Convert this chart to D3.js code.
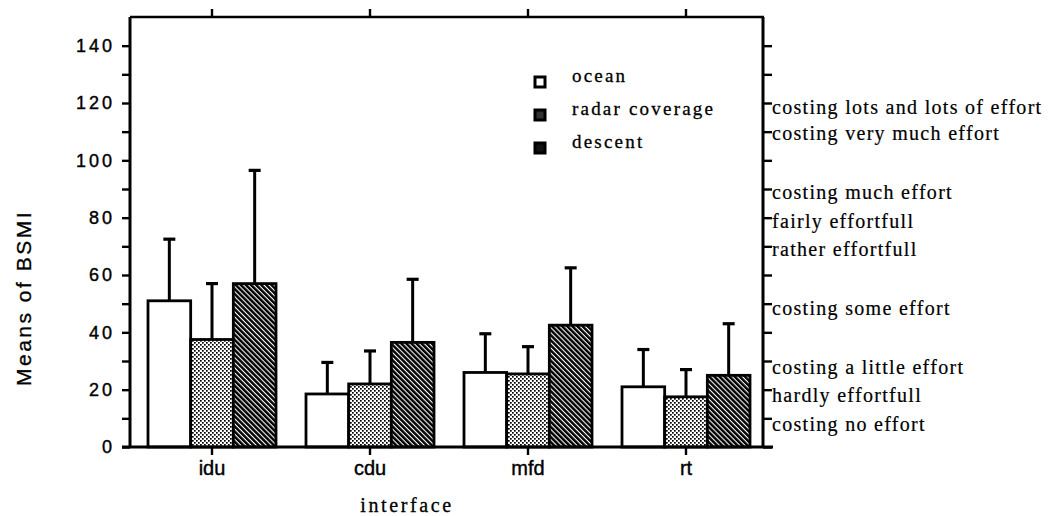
<!DOCTYPE html>
<html>
<head>
<meta charset="utf-8">
<script src="https://cdn.jsdelivr.net/npm/d3@7"></script>
<style>
  html, body { margin: 0; padding: 0; background: #fff; }
  svg { display: block; }
</style>
</head>
<body>
<svg id="chart" width="1055" height="516"></svg>
<script>
// ---- data ----
const categories = ["idu", "cdu", "mfd", "rt"];
const seriesNames = ["ocean", "radar coverage", "descent"];
const oceanMeans   = [51, 18.5, 26, 21];
const radarMeans   = [37.5, 22, 25.5, 17.5];
const descentMeans = [57, 36.5, 42.5, 25];
const oceanSD   = [21.5, 11, 13.5, 13];
const radarSD   = [19.5, 11.5, 9.5, 9.5];
const descentSD = [39.5, 22, 20, 18];
const yTickValues = [0, 10, 20, 30, 40, 50, 60, 70, 80, 90, 100, 110, 120, 130, 140];
const yLabelValues = [0, 20, 40, 60, 80, 100, 120, 140];
const anchorLabels = ["costing lots and lots of effort", "costing very much effort", "costing much effort",
  "fairly effortfull", "rather effortfull", "costing some effort", "costing a little effort",
  "hardly effortfull", "costing no effort"];
const anchorValues = [118.5, 109.5, 89, 79, 69, 48.5, 28, 18, 8];
const yTitle = "Means of BSMI";
const xTitle = "interface";

const means = [oceanMeans, radarMeans, descentMeans];
const sds = [oceanSD, radarSD, descentSD];

// ---- layout ----
const svg = d3.select("#chart");
const plotLeft = 130, plotRight = 763, plotTop = 17, plotBottom = 447;

const y = d3.scaleLinear().domain([0, 150]).range([plotBottom, plotTop]);
const x = d3.scaleBand().domain(categories).range([133, 765]).paddingInner(0).paddingOuter(0);
const xs = d3.scaleBand().domain(seriesNames).range([-64, 64]);

// ---- patterns ----
const defs = svg.append("defs");
const p1 = defs.append("pattern").attr("id", "dots").attr("patternUnits", "userSpaceOnUse")
  .attr("width", 4).attr("height", 4);
p1.append("rect").attr("width", 4).attr("height", 4).attr("fill", "#fff");
p1.append("rect").attr("x", 0).attr("y", 0).attr("width", 1.7).attr("height", 1.7).attr("fill", "#000");
p1.append("rect").attr("x", 2).attr("y", 2).attr("width", 1.7).attr("height", 1.7).attr("fill", "#000");

const p2 = defs.append("pattern").attr("id", "hatch").attr("patternUnits", "userSpaceOnUse")
  .attr("width", 3.6).attr("height", 3.6).attr("patternTransform", "rotate(-45)");
p2.append("rect").attr("width", 3.6).attr("height", 3.6).attr("fill", "#fff");
p2.append("rect").attr("x", 0).attr("y", 0).attr("width", 2.5).attr("height", 3.6).attr("fill", "#000");

const fills = ["#fff", "url(#dots)", "url(#hatch)"];

// ---- bars ----
const g = svg.append("g");
seriesNames.forEach((s, si) => {
  categories.forEach((c, ci) => {
    const x0 = x(c) + x.bandwidth() / 2 + xs(s);
    const w = xs.bandwidth();
    const v = means[si][ci];
    const up = v + sds[si][ci];
    g.append("line").attr("x1", x0 + w / 2).attr("x2", x0 + w / 2)
      .attr("y1", y(v)).attr("y2", y(up)).attr("stroke", "#000").attr("stroke-width", 3);
    g.append("line").attr("x1", x0 + w / 2 - 6).attr("x2", x0 + w / 2 + 6)
      .attr("y1", y(up)).attr("y2", y(up)).attr("stroke", "#000").attr("stroke-width", 3.2);
  });
});
seriesNames.forEach((s, si) => {
  categories.forEach((c, ci) => {
    const x0 = x(c) + x.bandwidth() / 2 + xs(s);
    const w = xs.bandwidth();
    const v = means[si][ci];
    g.append("rect").attr("x", x0).attr("y", y(v)).attr("width", w).attr("height", y(0) - y(v))
      .attr("fill", fills[si]).attr("stroke", "#000").attr("stroke-width", 2.8);
  });
});

// ---- axes ----
const axisStyle = sel => {
  sel.select(".domain").remove();
  sel.selectAll(".tick line").attr("stroke", "#000").attr("stroke-width", 2.4);
};

const yAxis = d3.axisLeft(y).tickValues(yTickValues).tickSize(8).tickPadding(10)
  .tickFormat(d => yLabelValues.includes(d) ? String(d) : "");
svg.append("g").attr("transform", `translate(${plotLeft},0)`).call(yAxis).call(axisStyle)
  .selectAll("text").attr("font-family", "Liberation Sans, Arial, sans-serif").attr("font-size", 18)
  .attr("letter-spacing", 3).attr("fill", "#000").attr("stroke", "#000").attr("stroke-width", 0.4).attr("dx", 3);

const yAxisR = d3.axisRight(y).tickValues(yTickValues).tickSize(9).tickFormat("");
svg.append("g").attr("transform", `translate(${plotRight},0)`).call(yAxisR).call(axisStyle);

const xAxisB = d3.axisBottom(x).tickSize(8).tickPadding(6);
const xb = svg.append("g").attr("transform", `translate(0,${plotBottom})`).call(xAxisB).call(axisStyle);
xb.selectAll("text").attr("font-family", "Liberation Sans Narrow, Liberation Sans, Arial, sans-serif")
  .attr("font-size", 20).attr("fill", "#000").attr("stroke", "#000").attr("stroke-width", 0.4);

const xAxisT = d3.axisTop(x).tickSize(8).tickFormat("");
svg.append("g").attr("transform", `translate(0,${plotTop})`).call(xAxisT).call(axisStyle);

// frame
svg.append("line").attr("x1", plotLeft).attr("x2", plotLeft).attr("y1", plotTop).attr("y2", plotBottom)
  .attr("stroke", "#000").attr("stroke-width", 3);
svg.append("line").attr("x1", plotRight).attr("x2", plotRight).attr("y1", plotTop).attr("y2", plotBottom)
  .attr("stroke", "#000").attr("stroke-width", 3);
svg.append("line").attr("x1", plotLeft).attr("x2", plotRight + 1).attr("y1", plotTop).attr("y2", plotTop)
  .attr("stroke", "#000").attr("stroke-width", 2.6);
svg.append("line").attr("x1", plotLeft - 8).attr("x2", plotRight + 10).attr("y1", plotBottom).attr("y2", plotBottom)
  .attr("stroke", "#000").attr("stroke-width", 3);

// right anchor labels
svg.append("g").selectAll("text").data(anchorLabels).join("text")
  .attr("x", plotRight + 9).attr("y", (d, i) => y(anchorValues[i]))
  .attr("dy", "0.35em")
  .attr("font-family", "Liberation Serif, Times New Roman, serif").attr("font-size", 20)
  .attr("letter-spacing", 1.3).attr("fill", "#000").attr("stroke", "#000").attr("stroke-width", 0.2)
  .text(d => d);

// titles
svg.append("text").attr("transform", "translate(31,298) rotate(-90)")
  .attr("text-anchor", "middle").attr("font-family", "Liberation Sans, Arial, sans-serif")
  .attr("font-size", 21).attr("letter-spacing", 2.5).attr("fill", "#000")
  .attr("stroke", "#000").attr("stroke-width", 0.3).text(yTitle);
svg.append("text").attr("x", 407).attr("y", 512).attr("text-anchor", "middle")
  .attr("font-family", "Liberation Serif, Times New Roman, serif").attr("font-size", 20)
  .attr("letter-spacing", 2.6).attr("fill", "#000").attr("stroke", "#000").attr("stroke-width", 0.3)
  .text(xTitle);

// legend
const leg = svg.append("g");
seriesNames.forEach((s, i) => {
  const ty = 75 + 33 * i;
  leg.append("rect").attr("x", 535).attr("y", ty + 2).attr("width", 10).attr("height", 10)
    .attr("fill", i === 0 ? "#fff" : (i === 1 ? "#333" : "#111")).attr("stroke", "#000").attr("stroke-width", 3);
  leg.append("text").attr("x", 572).attr("y", ty).attr("dy", "0.35em")
    .attr("font-family", "Liberation Serif, Times New Roman, serif").attr("font-size", 19)
    .attr("letter-spacing", 2.2).attr("fill", "#000").attr("stroke", "#000").attr("stroke-width", 0.3)
    .text(s);
});
</script>
</body>
</html>
